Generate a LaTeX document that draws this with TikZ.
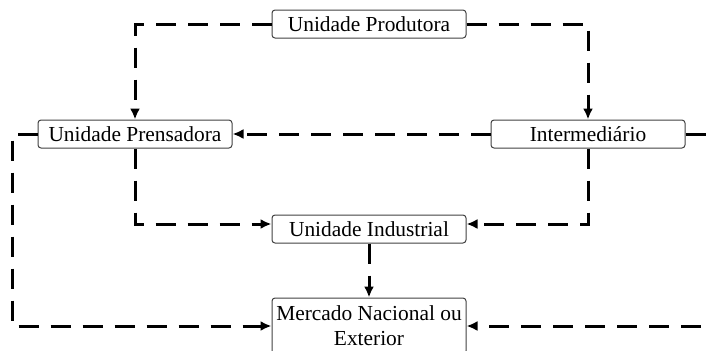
\documentclass[tikz,border=0pt]{standalone}
\usepackage{fontspec}
\setmainfont{Liberation Serif}
\usepackage{tikz}
\usetikzlibrary{arrows.meta}
\usetikzlibrary{positioning}
\usetikzlibrary{calc}
\tikzset{
  unitbox/.style = {draw=black!75, line width=0.5pt, rounded corners=1.5pt,
    minimum width=97pt, minimum height=14pt, inner sep=0pt, align=center,
    font=\fontsize{10.7}{12.5}\selectfont},% caixa de unidade
  flowline/.style = {line width=1.5pt, dash pattern=on 10pt off 6pt},% ligacao tracejada
}
\begin{document}
\begin{tikzpicture}[x=0.5pt,y=-0.5pt,-{Latex[length=5.5pt,width=5pt]}]
\clip (0,0) rectangle (707,350);
\node [unitbox] (prod) at (369,24) {Unidade Produtora};
\node [unitbox] (pren) at (135,134) {Unidade Prensadora};
\node [unitbox] (inter) at (588,134) {Intermedi\'ario};
\node [unitbox] (ind) at (369,229) {Unidade Industrial};
\node [unitbox, minimum height=28pt] (merc) at (369,326) {Mercado Nacional ou\\Exterior};

\coordinate (lc) at (12,134);
\coordinate (rc) at (725,134);

\draw [flowline] (prod.west) -| (pren.north);
\draw [flowline] (prod.east) -| (inter.north);
\draw [flowline] (inter.west) -- (pren.east);
\draw [flowline] (pren.south) |- ([yshift=2.5pt]ind.west);
\draw [flowline] (inter.south) |- ([yshift=2.5pt]ind.east);
\draw [flowline] (ind.south) -- (merc.north);
\draw [flowline] (pren.west) -- (lc) |- (merc.west);
\draw [flowline] (inter.east) -- (rc) |- (merc.east);
%\node at (merc) [yshift=-1cm] {};
\end{tikzpicture}
\end{document}
